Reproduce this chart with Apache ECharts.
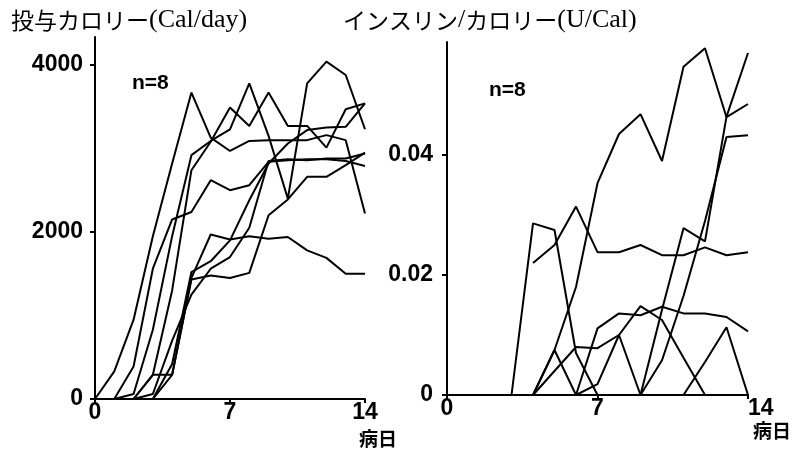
<!DOCTYPE html>
<html>
<head>
<meta charset="utf-8">
<script src="https://cdn.jsdelivr.net/npm/echarts@6/dist/echarts.min.js"></script>
<style>
  html, body { margin: 0; padding: 0; background: #fff; }
  #chart { width: 795px; height: 456px; }
</style>
</head>
<body>
<div id="chart"></div>
<script>
// Hospital day (病日) for every patient trace
const days = [0, 1, 2, 3, 4, 5, 6, 7, 8, 9, 10, 11, 12, 13, 14];

// Administered calories (Cal/day), one array per patient
const calorie1 = [0, 330, 950, 1950, 2820, 3670, 3130, 2970, 3090, 3100, 3100, 3100, 3160, 3100, 2220];
const calorie2 = [0, 0, 60, 830, 1950, 2920, 3090, 3230, 3780, 3150, 2400, 3780, 4040, 3880, 3230];
const calorie3 = [0, 0, 0, 290, 1300, 2740, 3080, 3490, 3270, 3670, 3270, 3270, 3010, 3470, 3540];
const calorie4 = [0, 0, 390, 1560, 2150, 2240, 2620, 2500, 2560, 2840, 2860, 2870, 2870, 2850, 2790];
const calorie5 = [0, 0, 0, 290, 290, 1450, 1970, 1910, 1950, 1920, 1940, 1780, 1690, 1500, 1500];
const calorie6 = [0, 0, 0, 0, 420, 1520, 1650, 1900, 2380, 2820, 3060, 3220, 3250, 3260, 3540];
const calorie7 = [0, 0, 0, 0, 290, 1430, 1480, 1450, 1510, 2200, 2390, 2660, 2660, 2800, 2950];
const calorie8 = [0, 0, 0, 60, 700, 1250, 1560, 1700, 2050, 2850, 2870, 2860, 2880, 2880, 2940];

// Insulin per calorie (U/Cal), one array per patient
const insulin1 = [0, 0, 0, 0, 0, 0.0075, 0.018, 0.0353, 0.0435, 0.0468, 0.039, 0.0547, 0.0578, 0.0463, 0.0485];
const insulin2 = [null, null, null, null, 0.022, 0.025, 0.0314, 0.0238, 0.0238, 0.025, 0.0233, 0.0233, 0.0246, 0.0233, 0.0238];
const insulin3 = [0, 0, 0, 0, 0.0286, 0.0275, 0.007, 0, 0, 0, 0, 0, 0.0055, 0.0113, 0];
const insulin4 = [0, 0, 0, 0, 0, 0.0075, 0, 0.0111, 0.0136, 0.0133, 0.0147, 0.0136, 0.0136, 0.013, 0.0106];
const insulin5 = [0, 0, 0, 0, 0, 0.004, 0.008, 0.0078, 0.010, 0.0148, 0.0125, 0.0062, 0, 0, 0];
const insulin6 = [0, 0, 0, 0, 0, 0, 0, 0, 0, 0, 0.0142, 0.0278, 0.0256, 0.0464, 0.057];
const insulin7 = [0, 0, 0, 0, 0, 0, 0, 0, 0, 0, 0.0058, 0.0165, 0.029, 0.043, 0.0433];
const insulin8 = [0, 0, 0, 0, 0, 0, 0, 0.0018, 0.010, 0, 0, 0, 0, 0, 0];

// Tick values
const dayTicks = [0, 7, 14];
const calorieTicks = [0, 2000, 4000];
const insulinTicks = [0, 0.02, 0.04];

const calorieSeries = [calorie1, calorie2, calorie3, calorie4, calorie5, calorie6, calorie7, calorie8];
const insulinSeries = [insulin1, insulin2, insulin3, insulin4, insulin5, insulin6, insulin7, insulin8];

const tickFont = {
  fontFamily: 'Liberation Sans, Arial, sans-serif',
  fontWeight: 'bold',
  fontSize: 23,
  color: '#000'
};
const axisLine = { show: true, lineStyle: { color: '#000', width: 2 } };

function pairs(values) {
  return days.map((d, i) => [d, values[i]]);
}

function lineSeries(values, axisIndex) {
  return {
    type: 'line',
    xAxisIndex: axisIndex,
    yAxisIndex: axisIndex,
    data: pairs(values),
    symbol: 'none',
    silent: true,
    connectNulls: false,
    lineStyle: { color: '#000', width: 2 }
  };
}

function xAxisFor(gridIndex, padLeft, padTop, lastAlign) {
  return {
    type: 'value',
    gridIndex: gridIndex,
    min: 0,
    max: 14,
    interval: 7,
    axisLine: axisLine,
    axisTick: { show: true, length: 4, lineStyle: { color: '#000', width: 2 }, customValues: dayTicks },
    axisLabel: Object.assign({ margin: 2, customValues: dayTicks, alignMaxLabel: lastAlign }, tickFont),
    splitLine: { show: false },
    name: '病日',
    nameLocation: 'end',
    nameGap: 0,
    nameTextStyle: {
      fontFamily: 'Noto Sans CJK JP, sans-serif',
      fontWeight: 'bold',
      fontSize: 19,
      color: '#000',
      align: 'center',
      verticalAlign: 'top',
      padding: [padTop, 0, 0, padLeft]
    }
  };
}

const chart = echarts.init(document.getElementById('chart'), null, { renderer: 'canvas' });

const titleRich = {
  j: { fontFamily: 'Noto Sans CJK JP, sans-serif', fontWeight: 'normal', fontSize: 23, color: '#000' },
  l: { fontFamily: 'Liberation Serif, Times New Roman, serif', fontWeight: 'normal', fontSize: 26, color: '#000' }
};
const nFont = { fontFamily: 'Liberation Sans, Arial, sans-serif', fontWeight: 'bold', fontSize: 21, color: '#000' };

chart.setOption({
  animation: false,
  backgroundColor: '#fff',
  title: [
    { left: 6, top: 2, text: '{j|投与カロリー}{l|(Cal/day)}', textStyle: { fontWeight: 'normal', rich: titleRich } },
    { left: 338, top: 2, text: '{j|インスリン}{l|/}{j|カロリー}{l|(U/Cal)}', textStyle: { fontWeight: 'normal', rich: titleRich } },
    { left: 127, top: 68, text: 'n=8', textStyle: nFont },
    { left: 484, top: 75, text: 'n=8', textStyle: nFont }
  ],
  grid: [
    { left: 95, top: 37, width: 270, height: 362 },
    { left: 447, top: 42, width: 301, height: 353 }
  ],
  xAxis: [
    xAxisFor(0, 26, 30, 'center'),
    xAxisFor(1, 48, 26, 'left')
  ],
  yAxis: [
    {
      type: 'value',
      gridIndex: 0,
      min: 0,
      max: 4335,
      interval: 2000,
      axisLine: axisLine,
      axisTick: { show: true, length: 5, lineStyle: { color: '#000', width: 2 }, customValues: calorieTicks },
      axisLabel: Object.assign({
        margin: 12,
        customValues: calorieTicks,
        formatter: v => String(v)
      }, tickFont),
      splitLine: { show: false }
    },
    {
      type: 'value',
      gridIndex: 1,
      min: 0,
      max: 0.05883,
      interval: 0.02,
      axisLine: axisLine,
      axisTick: { show: true, length: 5, lineStyle: { color: '#000', width: 2 }, customValues: insulinTicks },
      axisLabel: Object.assign({
        margin: 14,
        customValues: insulinTicks,
        formatter: v => (v === 0 ? '0' : v.toFixed(2))
      }, tickFont),
      splitLine: { show: false }
    }
  ],
  series: [
    ...calorieSeries.map(s => lineSeries(s, 0)),
    ...insulinSeries.map(s => lineSeries(s, 1))
  ]
});
</script>
</body>
</html>
